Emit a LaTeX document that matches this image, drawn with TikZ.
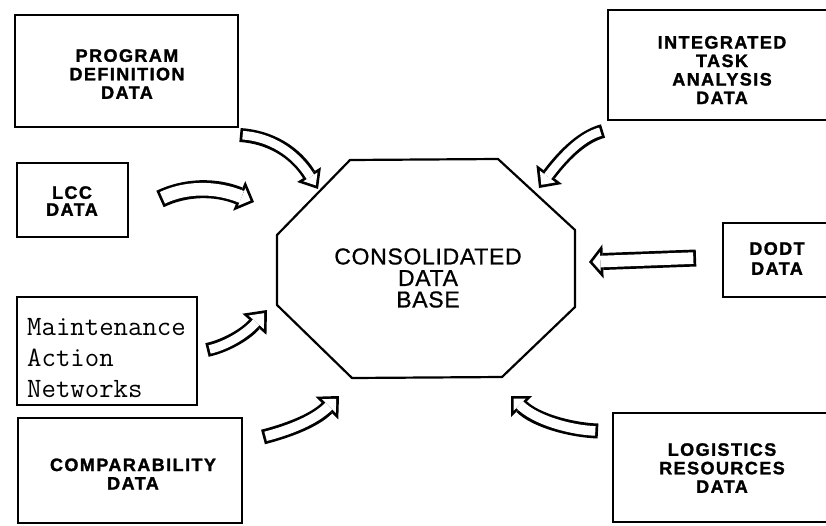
\documentclass[tikz,border=0pt]{standalone}
\usepackage{fontspec}
\usetikzlibrary{arrows.meta}
\newfontfamily\boxfont[LetterSpace=8, BoldFeatures={FakeBold=1.5}]{Liberation Sans}
\newfontfamily\octfont[LetterSpace=3, FakeBold=0.8]{Liberation Sans}
\tikzset{
  boxframe/.style={draw, line width=2.4pt, inner sep=0pt},
  boxlabel/.style={inner sep=0pt, align=center, font=\boxfont\bfseries\fontsize{18}{18.5}\selectfont},
  monotext/.style={anchor=base west, inner sep=0pt, font=\ttfamily\fontsize{28}{31}\selectfont\addfontfeature{FakeBold=1.2}},
  octtext/.style={inner sep=0pt, align=center, font=\octfont\fontsize{23}{21.5}\selectfont},
}
\newcommand{\blockarr}[4]{%
  \pgfmathsetmacro{\bA}{#1}%
  \pgfmathsetmacro{\hW}{#2}%
  \pgfmathsetmacro{\hL}{#3}%
  \pgfmathsetmacro{\bT}{2.7}%
  \pgfmathsetmacro{\sA}{\hW/sqrt(\hW*\hW+\hL*\hL)}%
  \pgfmathsetmacro{\sB}{\bT/\sA}%
  \pgfmathsetmacro{\lI}{\hL-\sB-\bT}%
  \pgfmathsetmacro{\wI}{2*\lI*\hW/\hL}%
  \pgfmathsetmacro{\wO}{2*\hW}%
  \pgfmathsetmacro{\bI}{\bA-2*\bT}%
  \draw[line width=\bA pt, -{Triangle[length=\hL pt 0 0, width=\wO pt 0 0, line width=0pt]}] #4;
  \draw[white, line width=\bI pt, shorten <=\bT pt, shorten >=\sB pt, -{Triangle[length=\lI pt 0 0, width=\wI pt 0 0, line width=0pt]}] #4;
}
\begin{document}
\begin{tikzpicture}[x=1pt,y=-1pt]
\useasboundingbox (0,0) rectangle (826,525);
\clip (0,0) rectangle (826,525);

% boxes
\node[boxframe, minimum width=223pt, minimum height=112pt] (pd) at (126.5,71) {};
\node[boxlabel] (pdt) at (127,74) {PROGRAM\\DEFINITION\\DATA};

\node[boxframe, minimum width=111pt, minimum height=74pt] (lcc) at (72.5,200) {};
\node[boxlabel, font=\boxfont\bfseries\fontsize{18}{17}\selectfont] (lcct) at (72,201) {LCC\\DATA};

\node[boxframe, minimum width=180pt, minimum height=108pt] (man) at (107,351) {};
\node[monotext] (man1) at (27,335) {Maintenance};
\node[monotext] (man2) at (27,366) {Action};
\node[monotext] (man3) at (27,397) {Networks};

\node[boxframe, minimum width=224pt, minimum height=105pt] (cmp) at (130,470.5) {};
\node[boxlabel] (cmpt) at (133,474) {COMPARABILITY\\DATA};

\node[boxframe, minimum width=228pt, minimum height=110pt] (ita) at (722,65) {};
\node[boxlabel] (itat) at (722,70) {INTEGRATED\\TASK\\ANALYSIS\\DATA};

\node[boxframe, minimum width=108pt, minimum height=74pt] (dodt) at (777,260) {};
\node[boxlabel, font=\boxfont\bfseries\fontsize{18}{20}\selectfont] (dodtt) at (777,258.5) {DODT\\DATA};

\node[boxframe, minimum width=218pt, minimum height=109pt] (lgr) at (722,467.5) {};
\node[boxlabel] (lgrt) at (722,468) {LOGISTICS\\RESOURCES\\DATA};

% octagon
\coordinate (o1) at (350,160);
\coordinate (o2) at (498,159);
\coordinate (o3) at (575,230);
\coordinate (o4) at (575,307);
\coordinate (o5) at (502,377);
\coordinate (o6) at (352,378);
\coordinate (o7) at (277,305);
\coordinate (o8) at (277,235);
\draw[line width=2.2pt, line join=round] (o1) -- (o2) -- (o3) -- (o4) -- (o5) -- (o6) -- (o7) -- (o8) -- cycle;
\node[octtext] (cdb) at (428,278) {CONSOLIDATED\\DATA\\BASE};

% arrow end points
\coordinate (a1s) at (240,135);  \coordinate (a1e) at (318,189);
\coordinate (a2s) at (160,199);  \coordinate (a2e) at (254,202);
\coordinate (a3s) at (207,350);  \coordinate (a3e) at (267,310);
\coordinate (a4s) at (263,437);  \coordinate (a4e) at (339,396);
\coordinate (a5s) at (598,431);  \coordinate (a5e) at (511,396);
\coordinate (a6s) at (696,258);  \coordinate (a6e) at (589,262);
\coordinate (a7s) at (603,131);  \coordinate (a7e) at (539,188);

\blockarr{14}{14}{17}{(a1s) .. controls (270,137) and (295,152) .. (a1e)}
\blockarr{18}{16}{16}{(a2s) .. controls (185,187) and (215,186) .. (a2e)}
\blockarr{14}{16}{19}{(a3s) .. controls (225,346) and (245,335) .. (a3e)}
\blockarr{15}{16}{17}{(a4s) .. controls (290,430) and (315,420) .. (a4e)}
\blockarr{15}{15}{15}{(a5s) .. controls (570,430) and (535,420) .. (a5e)}
\blockarr{17}{17}{14}{(a6s) -- (a6e)}
\blockarr{14}{16}{17}{(a7s) .. controls (580,137) and (560,160) .. (a7e)}
\end{tikzpicture}
\end{document}
